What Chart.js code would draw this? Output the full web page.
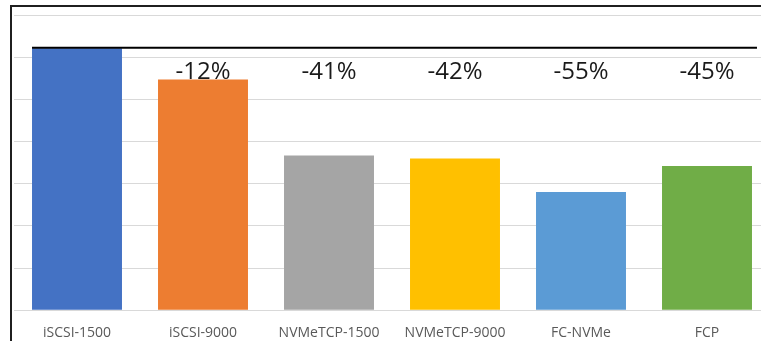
<!DOCTYPE html>
<html>
<head>
<meta charset="utf-8">
<script src="https://cdn.jsdelivr.net/npm/chart.js@4/dist/chart.umd.min.js"></script>
<style>
  html, body { margin: 0; padding: 0; background: #fff; overflow: hidden; }
  #wrap { position: relative; width: 761px; height: 341px; overflow: hidden; }
  #box { position: absolute; left: 0; top: 0; width: 780px; height: 341px; }
</style>
</head>
<body>
<div id="wrap"><div id="box"><canvas id="c" width="780" height="341"></canvas></div></div>
<script>
// Protocols compared against the iSCSI-1500 baseline
const categories = ['iSCSI-1500', 'iSCSI-9000', 'NVMeTCP-1500', 'NVMeTCP-9000', 'FC-NVMe', 'FCP'];
const values = [6.21, 5.47, 3.67, 3.60, 2.80, 3.42];
const barColors = ['#4472C4', '#ED7D31', '#A5A5A5', '#FFC000', '#5B9BD5', '#70AD47'];
const yTicks = [0, 1, 2, 3, 4, 5, 6, 7];

// Percent change of each bar relative to the first one
function pctLabel(i) {
  return Math.round((values[i] / values[0] - 1) * 100) + '%';
}

const decorations = {
  id: 'decorations',
  afterDatasetsDraw(chart) {
    const ctx = chart.ctx;
    const y = chart.scales.y;
    const meta = chart.getDatasetMeta(0);
    const first = meta.data[0];
    const last = meta.data[meta.data.length - 1];

    // baseline reference line at the first bar's height
    const by = y.getPixelForValue(values[0]);
    ctx.save();
    ctx.strokeStyle = '#000';
    ctx.lineWidth = 2;
    ctx.beginPath();
    ctx.moveTo(first.x - first.width / 2, by - 0.5);
    ctx.lineTo(last.x + last.width / 2 + 5, by - 0.5);
    ctx.stroke();

    // percent labels, all on one row above the tallest compared bar
    const top = Math.max(...values.slice(1));
    const ly = y.getPixelForValue(top) - 1;
    ctx.fillStyle = '#1a1a1a';
    ctx.font = '24px "Open Sans"';
    ctx.textAlign = 'center';
    ctx.textBaseline = 'alphabetic';
    for (let i = 1; i < values.length; i++) {
      ctx.fillText(pctLabel(i), meta.data[i].x, ly);
    }
    ctx.restore();
  },
  afterDraw(chart) {
    // frame around the chart
    const ctx = chart.ctx;
    ctx.save();
    ctx.fillStyle = '#1f1f1f';
    ctx.fillRect(10, 5, 2, chart.height - 5);
    ctx.fillRect(10, 5, chart.width - 10, 2);
    ctx.restore();
  }
};

new Chart(document.getElementById('c'), {
  type: 'bar',
  data: {
    labels: categories,
    datasets: [{
      data: values,
      backgroundColor: barColors,
      borderWidth: 0,
      barPercentage: 0.714,
      categoryPercentage: 1.0
    }]
  },
  options: {
    responsive: false,
    animation: false,
    layout: { padding: { left: 14, right: 10, top: 15, bottom: -14 } },
    plugins: { legend: { display: false }, tooltip: { enabled: false } },
    scales: {
      x: {
        grid: { display: false, drawTicks: false },
        border: { display: true, color: '#d9d9d9', width: 1 },
        ticks: {
          color: '#595959',
          font: { family: '"Open Sans"', size: 14 },
          padding: 14,
          maxRotation: 0
        }
      },
      y: {
        min: 0,
        max: 7,
        afterBuildTicks(scale) { scale.ticks = yTicks.map(v => ({ value: v })); },
        grid: { color: '#d9d9d9', lineWidth: 1, drawTicks: false },
        border: { display: false },
        ticks: { display: false }
      }
    }
  },
  plugins: [decorations]
});
</script>
</body>
</html>
